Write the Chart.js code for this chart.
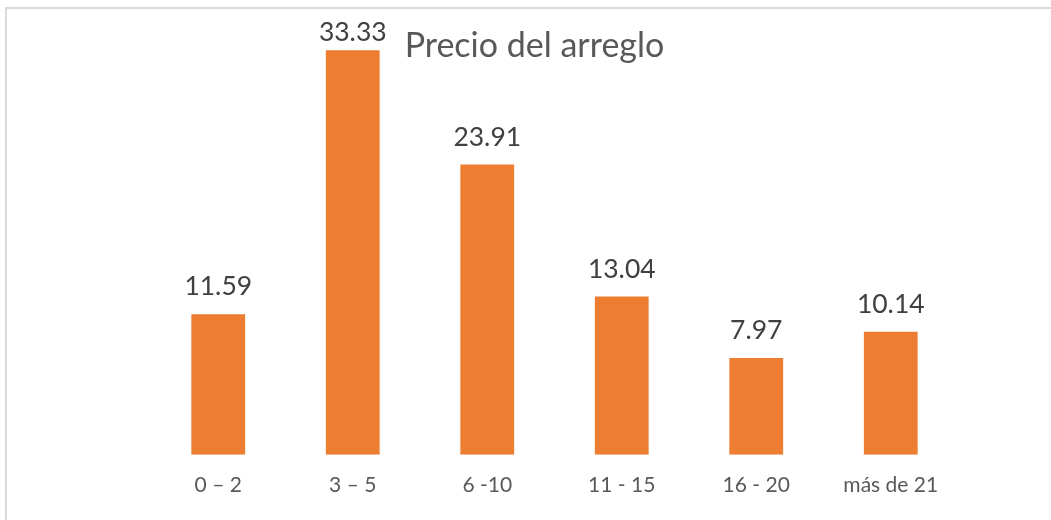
<!DOCTYPE html>
<html><head><meta charset="utf-8">
<script src="https://cdn.jsdelivr.net/npm/chart.js@4"></script>
<style>
html,body{margin:0;padding:0;background:#fff;overflow:hidden}
#wrap{position:relative;width:1051px;height:520px;overflow:hidden}
#frame{position:absolute;left:5px;top:7px;width:1080px;height:560px;border:2px solid #D9D9D9;box-sizing:border-box}
canvas{position:absolute;left:0;top:0}
</style></head><body>
<div id="wrap"><div id="frame"></div><canvas id="c" width="1051" height="520"></canvas></div>
<script>
const categories = ["0 – 2", "3 – 5", "6 -10", "11 - 15", "16 - 20", "más de 21"];
const values = [11.59, 33.33, 23.91, 13.04, 7.97, 10.14];
const valueLabels = ["11.59", "33.33", "23.91", "13.04", "7.97", "10.14"];
const chartTitle = "Precio del arreglo";

const valueLabelPlugin = {
  id: 'valueLabels',
  afterDatasetsDraw(chart) {
    const ctx = chart.ctx;
    const meta = chart.getDatasetMeta(0);
    ctx.save();
    ctx.font = '26.5px Lato';
    ctx.fillStyle = '#404040';
    ctx.textAlign = 'center';
    ctx.textBaseline = 'alphabetic';
    meta.data.forEach((bar, i) => {
      const y = Math.max(bar.y - 19, 41);
      ctx.fillText(valueLabels[i], bar.x, y);
    });
    ctx.restore();
  }
};

const overlayTitlePlugin = {
  id: 'overlayTitle',
  afterDraw(chart) {
    const ctx = chart.ctx;
    ctx.save();
    ctx.font = '34px Lato';
    ctx.fillStyle = '#595959';
    ctx.textAlign = 'center';
    ctx.textBaseline = 'alphabetic';
    ctx.fillText(chartTitle, 534.5, 57);
    ctx.restore();
  }
};

new Chart(document.getElementById('c'), {
  type: 'bar',
  data: {
    labels: categories,
    datasets: [{
      data: values,
      backgroundColor: '#ED7D31',
      borderWidth: 0,
      barPercentage: 0.4,
      categoryPercentage: 1.0
    }]
  },
  options: {
    responsive: false,
    animation: false,
    layout: { padding: { left: 151, right: 93, top: 30, bottom: 4 } },
    plugins: { legend: { display: false }, tooltip: { enabled: false }, title: { display: false } },
    scales: {
      x: {
        grid: { display: false, drawTicks: false },
        border: { display: false },
        ticks: { color: '#595959', font: { family: 'Lato', size: 21 }, padding: 18 }
      },
      y: { display: false, min: 0, max: 35 }
    }
  },
  plugins: [valueLabelPlugin, overlayTitlePlugin]
});
</script>
</body></html>
